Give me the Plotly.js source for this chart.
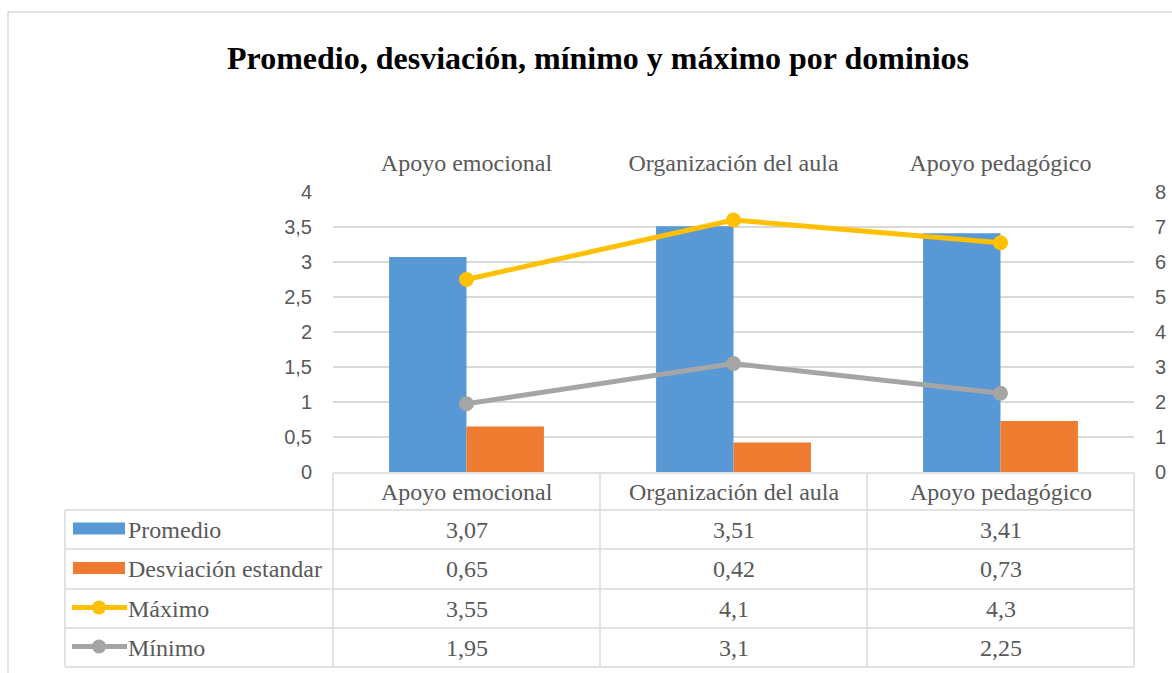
<!DOCTYPE html>
<html>
<head>
<meta charset="utf-8">
<script src="https://cdn.plot.ly/plotly-3.0.1.min.js"></script>
<style>html,body{margin:0;padding:0;background:#fff;}</style>
</head>
<body>
<div id="chart" style="width:1172px;height:673px;"></div>
<script>
const categories = ["Apoyo emocional", "Organización del aula", "Apoyo pedagógico"];
const promedio = [3.07, 3.51, 3.41];
const desviacion = [0.65, 0.42, 0.73];
const maximo = [3.55, 4.1, 4.3];
const minimo = [1.95, 3.1, 2.25];
const seriesNames = ["Promedio", "Desviación estandar", "Máximo", "Mínimo"];

const W = 1172, H = 673;
const L = 333, R = 1134, T = 192, B = 472;
const px = x => (x - L) / (R - L);
const py = y => (B - y) / (B - T);

const blue = "#5898d4", orange = "#ee7b30", yellow = "#ffc000", gray = "#a5a5a5";
const txt = "#595959", grid = "#d9d9d9";
const serif = "Liberation Serif, Times New Roman, serif";
const sans = "Liberation Sans, Arial, sans-serif";

const traces = [
  {type: "bar", name: seriesNames[0], x: categories, y: promedio, marker: {color: blue}, yaxis: "y", hoverinfo: "y"},
  {type: "bar", name: seriesNames[1], x: categories, y: desviacion, marker: {color: orange}, yaxis: "y", hoverinfo: "y"},
  {type: "scatter", name: seriesNames[3], x: categories, y: minimo, yaxis: "y2", stackgroup: "lines", fill: "none",
   mode: "lines+markers", line: {color: gray, width: 5}, marker: {color: gray, size: 15}},
  {type: "scatter", name: seriesNames[2], x: categories, y: maximo, yaxis: "y2", stackgroup: "lines", fill: "none",
   mode: "lines+markers", line: {color: yellow, width: 5}, marker: {color: yellow, size: 15}}
];

const fmt = v => String(v).replace(".", ",");
const rowsData = [promedio, desviacion, maximo, minimo];

// Table geometry (pixels)
const hLines = [510, 549, 589, 628, 667];
const rowCenters = [529.5, 569, 608.5, 647.5];
const colEdges = [333, 600, 867, 1134];

const shapes = [];
const lineStyle = {color: grid, width: 1.5};
// outer frame
shapes.push({type: "rect", xref: "paper", yref: "paper", x0: px(8), x1: px(1190), y0: py(12), y1: py(700), line: {color: grid, width: 1.5}});
// header top line
shapes.push({type: "line", xref: "paper", yref: "paper", x0: px(333), x1: px(1134), y0: py(473), y1: py(473), line: lineStyle});
hLines.forEach(y => shapes.push({type: "line", xref: "paper", yref: "paper", x0: px(65), x1: px(1134), y0: py(y), y1: py(y), line: lineStyle}));
shapes.push({type: "line", xref: "paper", yref: "paper", x0: px(65), x1: px(65), y0: py(510), y1: py(667), line: lineStyle});
colEdges.forEach(x => shapes.push({type: "line", xref: "paper", yref: "paper", x0: px(x), x1: px(x), y0: py(473), y1: py(667), line: lineStyle}));

// legend keys
const keyColors = [blue, orange, yellow, gray];
rowCenters.forEach((cy, i) => {
  if (i < 2) {
    shapes.push({type: "rect", xref: "paper", yref: "paper", x0: px(73), x1: px(125), y0: py(cy - 7), y1: py(cy + 5), fillcolor: keyColors[i], line: {width: 0}});
  } else {
    shapes.push({type: "line", xref: "paper", yref: "paper", x0: px(72), x1: px(127), y0: py(cy - 1), y1: py(cy - 1), line: {color: keyColors[i], width: 5}});
    shapes.push({type: "circle", xref: "paper", yref: "paper", x0: px(92), x1: px(106), y0: py(cy - 8), y1: py(cy + 6), fillcolor: keyColors[i], line: {width: 0}});
  }
});

const annotations = [];
categories.forEach(c => annotations.push({xref: "x", yref: "paper", x: c, y: py(491.5), text: c, showarrow: false,
  xanchor: "center", yanchor: "middle", font: {family: serif, size: 24, color: txt}}));
seriesNames.forEach((n, i) => {
  annotations.push({xref: "paper", yref: "paper", x: px(126), y: py(rowCenters[i]), text: n, showarrow: false,
    xanchor: "left", yanchor: "middle", font: {family: serif, size: 24, color: txt}});
  categories.forEach((c, j) => annotations.push({xref: "x", yref: "paper", x: c, y: py(rowCenters[i]), text: fmt(rowsData[i][j]),
    showarrow: false, xanchor: "center", yanchor: "middle", font: {family: serif, size: 24, color: txt}}));
});

const layout = {
  width: W, height: H,
  margin: {l: L, r: W - R, t: T, b: H - B, pad: 0},
  paper_bgcolor: "#ffffff", plot_bgcolor: "#ffffff",
  separators: ", ",
  showlegend: false,
  barmode: "group", bargap: 0.42, bargroupgap: 0,
  title: {text: "Promedio, desviación, mínimo y máximo por dominios", x: 598 / W, xanchor: "center",
    y: 1 - 58 / H, yanchor: "middle", yref: "container", font: {family: serif, size: 32, color: "#000000", weight: "bold"}},
  xaxis: {type: "category", side: "top", showline: false, showgrid: false, zeroline: false,
    ticks: "outside", ticklen: 10, tickcolor: "rgba(0,0,0,0)",
    tickfont: {family: serif, size: 24, color: txt}},
  yaxis: {range: [0, 4], dtick: 0.5, tick0: 0, showgrid: true, gridcolor: grid, gridwidth: 1.5, zeroline: false, showline: false,
    ticks: "outside", ticklen: 16, tickcolor: "rgba(0,0,0,0)", tickfont: {family: sans, size: 20, color: txt}},
  yaxis2: {range: [0, 8], dtick: 1, tick0: 0, overlaying: "y", side: "right", showgrid: false, zeroline: false, showline: false,
    ticks: "outside", ticklen: 16, tickcolor: "rgba(0,0,0,0)", tickfont: {family: sans, size: 20, color: txt}},
  shapes: shapes,
  annotations: annotations
};

Plotly.newPlot("chart", traces, layout, {displayModeBar: false, staticPlot: true});
</script>
</body>
</html>
